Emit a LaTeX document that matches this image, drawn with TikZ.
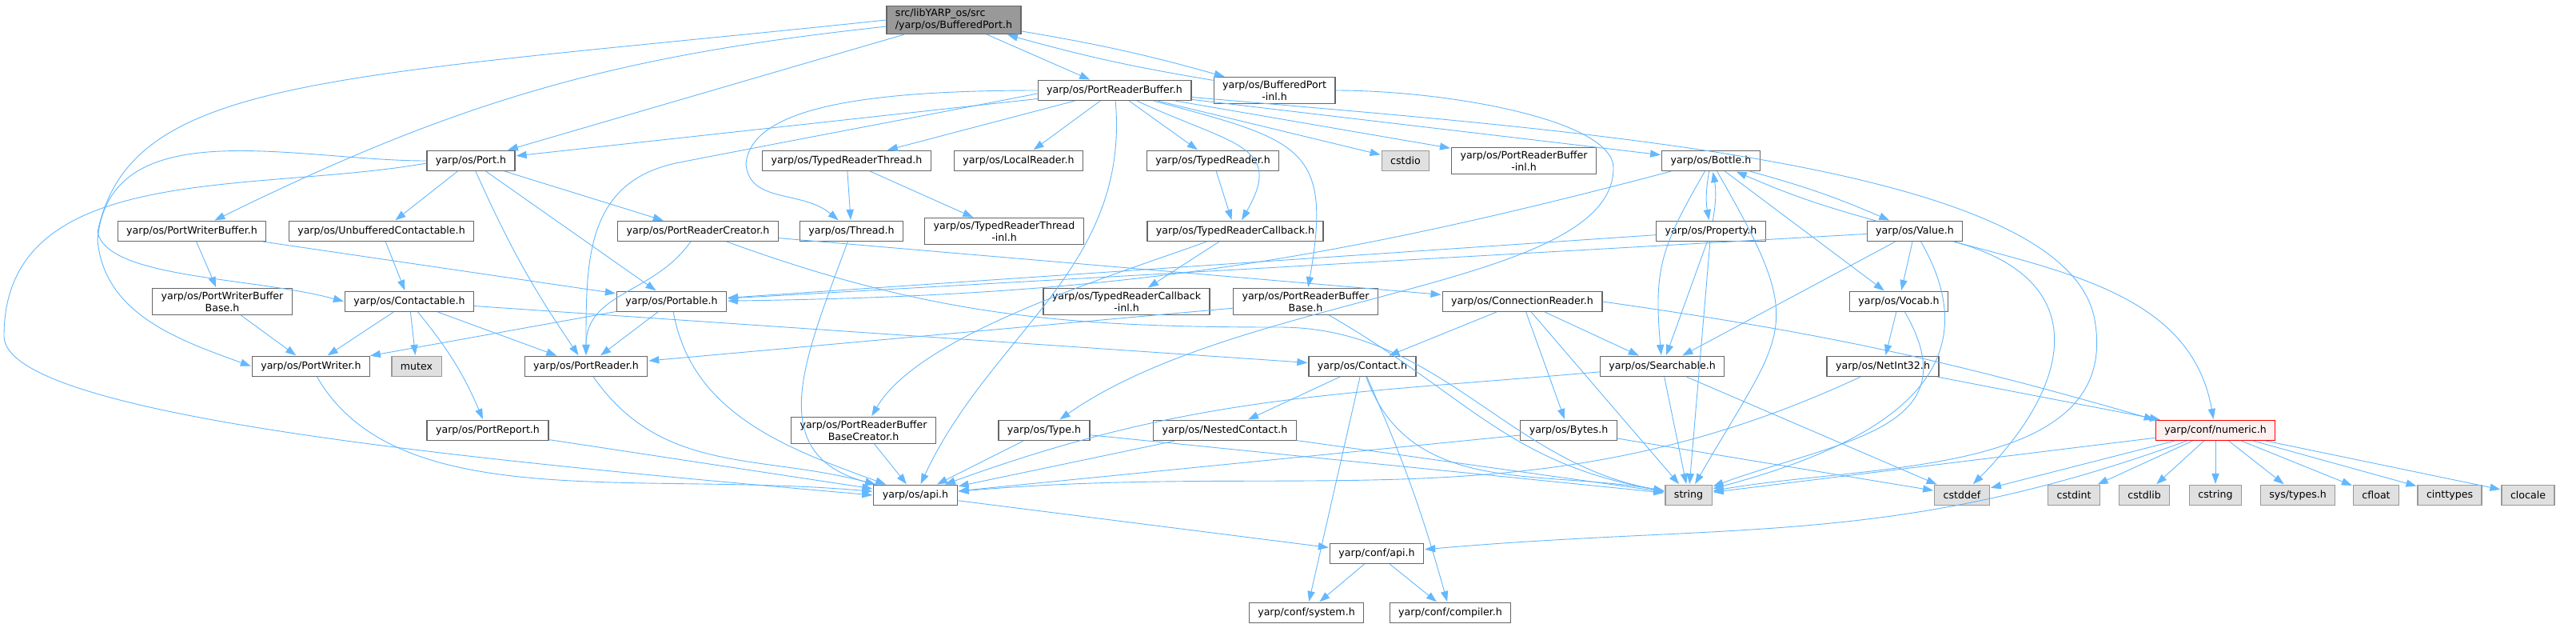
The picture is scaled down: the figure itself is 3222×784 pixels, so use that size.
\documentclass[tikz,border=0pt]{standalone}
\usepackage{fontspec}
\setmainfont{DejaVu Sans}
\usepackage{tikz}
\usetikzlibrary{arrows.meta,positioning}
\definecolor{edgeblue}{HTML}{63B8FF}
\definecolor{boxgray}{HTML}{666666}
\definecolor{rootgray}{HTML}{999999}
\definecolor{sysgray}{HTML}{E0E0E0}
\definecolor{sysedge}{HTML}{999999}
\definecolor{hotfill}{HTML}{FFF0F0}

\begin{document}
\begin{tikzpicture}[x=0.5pt,y=-0.5pt,shorten >=0.5pt,on grid,>={Triangle[length=6.5pt,width=4.6pt]}]
  \tikzstyle{header}=[rectangle,draw=boxgray,fill=white,line width=0.6pt,inner xsep=5.5pt,
                      inner ysep=2pt,minimum height=12.5pt,align=center,font=\fontsize{6.3}{7.5}\selectfont]
  \tikzstyle{root}=[header,fill=rootgray,align=left]
  \tikzstyle{stdlib}=[header,draw=sysedge,fill=sysgray]
  \tikzstyle{marked}=[header,draw=red,fill=hotfill]
  \tikzstyle{dep}=[->,color=edgeblue,line width=0.45pt]
  \useasboundingbox (0,0) rectangle (3222,784);

  \node[root] (bp) at (1193,25) {src/libYARP\_os/src\\/yarp/os/BufferedPort.h};
  \node[header] (prb) [below right=44pt and 100.5pt of bp] {yarp/os/PortReaderBuffer.h};
  \node[header] (bpinl) [right=100pt of prb] {yarp/os/BufferedPort\\-inl.h};

  \node[header] (port) [below left=88pt and 302pt of bp] {yarp/os/Port.h};
  \node[header] (trt) [right=235pt of port] {yarp/os/TypedReaderThread.h};
  \node[header] (localreader) [right=107.5pt of trt] {yarp/os/LocalReader.h};
  \node[header] (typedreader) [right=121.5pt of localreader] {yarp/os/TypedReader.h};
  \node[stdlib] (cstdio) [right=120.5pt of typedreader] {cstdio};
  \node[header] (prbinl) [right=74pt of cstdio] {yarp/os/PortReaderBuffer\\-inl.h};
  \node[header] (bottle) [right=117pt of prbinl] {yarp/os/Bottle.h};

  \node[header] (pwb) [below left=44pt and 174.5pt of port] {yarp/os/PortWriterBuffer.h};
  \node[header] (unbuf) [right=118.5pt of pwb] {yarp/os/UnbufferedContactable.h};
  \node[header] (prc) [right=198pt of unbuf] {yarp/os/PortReaderCreator.h};
  \node[header] (thread) [right=96pt of prc] {yarp/os/Thread.h};
  \node[header] (trtinl) [right=95.5pt of thread] {yarp/os/TypedReaderThread\\-inl.h};
  \node[header] (trc) [right=144.5pt of trtinl] {yarp/os/TypedReaderCallback.h};
  \node[header] (property) [right=297.5pt of trc] {yarp/os/Property.h};
  \node[header] (value) [right=127.5pt of property] {yarp/os/Value.h};

  \node[header] (pwbbase) [below right=44pt and 19pt of pwb] {yarp/os/PortWriterBuffer\\Base.h};
  \node[header] (contactable) [right=117pt of pwbbase] {yarp/os/Contactable.h};
  \node[header] (portable) [right=164pt of contactable] {yarp/os/Portable.h};
  \node[header] (trcinl) [right=284.5pt of portable] {yarp/os/TypedReaderCallback\\-inl.h};
  \node[header] (prbbase) [right=112pt of trcinl] {yarp/os/PortReaderBuffer\\Base.h};
  \node[header] (connreader) [right=135.5pt of prbbase] {yarp/os/ConnectionReader.h};
  \node[header] (vocab) [right=235.5pt of connreader] {yarp/os/Vocab.h};

  \node[header] (portwriter) [below right=40.5pt and 55.5pt of pwbbase] {yarp/os/PortWriter.h};
  \node[stdlib] (mutex) [right=66pt of portwriter] {mutex};
  \node[header] (portreader) [right=106pt of mutex] {yarp/os/PortReader.h};
  \node[header] (contact) [right=485.5pt of portreader] {yarp/os/Contact.h};
  \node[header] (searchable) [right=187.5pt of contact] {yarp/os/Searchable.h};
  \node[header] (netint) [right=138pt of searchable] {yarp/os/NetInt32.h};

  \node[header] (portreport) [below right=40pt and 110.5pt of portwriter] {yarp/os/PortReport.h};
  \node[header] (prbbc) [right=235pt of portreport] {yarp/os/PortReaderBuffer\\BaseCreator.h};
  \node[header] (type) [right=113pt of prbbc] {yarp/os/Type.h};
  \node[header] (nested) [right=113pt of type] {yarp/os/NestedContact.h};
  \node[header] (bytes) [right=215pt of nested] {yarp/os/Bytes.h};
  \node[marked] (numeric) [right=404.5pt of bytes] {yarp/conf/numeric.h};

  \node[header] (api) [below right=40.5pt and 267.5pt of portreport] {yarp/os/api.h};
  \node[stdlib] (string) [right=483.5pt of api] {string};
  \node[stdlib] (cstddef) [right=171pt of string] {cstddef};
  \node[stdlib] (cstdint) [right=70pt of cstddef] {cstdint};
  \node[stdlib] (cstdlib) [right=44pt of cstdint] {cstdlib};
  \node[stdlib] (cstring) [right=44.5pt of cstdlib] {cstring};
  \node[stdlib] (systypes) [right=51.5pt of cstring] {sys/types.h};
  \node[stdlib] (cfloat) [right=49pt of systypes] {cfloat};
  \node[stdlib] (cinttypes) [right=46pt of cfloat] {cinttypes};
  \node[stdlib] (clocale) [right=49pt of cinttypes] {clocale};

  \node[header] (confapi) [below right=36.5pt and 288.5pt of api] {yarp/conf/api.h};
  \node[header] (system) [below left=37pt and 44pt of confapi] {yarp/conf/system.h};
  \node[header] (compiler) [right=90pt of system] {yarp/conf/compiler.h};

  % BufferedPort.h and its -inl.h
  \path[dep] (bp) edge (prb);
  \path[dep] (bp) edge [bend left=3] (bpinl);
  \path[dep] (bpinl) edge [bend left=3] (bp);
  \path[dep] (bp) edge (port);
  \path[dep] (bp) edge [bend right=10] (pwb);
  \draw[dep] (bp.west) to[out=186,in=78,out distance=350pt,in distance=100pt] (122,290)
                       to[out=-78,in=165,out distance=30pt,in distance=60pt] (contactable.west);
  \draw[dep] (bpinl.east) to[out=0,in=90,out distance=70pt,in distance=30pt] (2018,210)
                          to[out=270,in=35,out distance=75pt,in distance=140pt] (type.35);

  % PortReaderBuffer.h
  \path[dep] (prb) edge (port);
  \draw[dep] (prb.west) to[out=180,in=85,out distance=110pt,in distance=35pt] (933,205)
                        to[out=-85,in=140,out distance=25pt,in distance=30pt] (thread.140);
  \draw[dep] ([yshift=-2pt]prb.west) to[out=191,in=11] (850,203)
             to[out=191,in=90,out distance=60pt,in distance=60pt] (portreader.north);
  \path[dep] (prb) edge (trt);
  \path[dep] (prb) edge (localreader);
  \path[dep] (prb) edge (typedreader);
  \path[dep] (prb) edge [out=-25,in=60,out distance=65pt,in distance=55pt] (trc);
  \path[dep] (prb) edge [out=-85,in=65,out distance=105pt,in distance=105pt] (api);
  \path[dep] (prb) edge (cstdio);
  \path[dep] (prb) edge (prbinl);
  \path[dep] (prb) edge (bottle);
  \path[dep] (prb) edge [out=-15,in=80,out distance=95pt,in distance=90pt] (prbbase);
  \draw[dep] (prb.-5) to[out=-5,in=100,out distance=235pt,in distance=100pt] (2620,400)
                      to[out=-80,in=10,out distance=100pt,in distance=100pt] (string.10);

  % Port.h
  \draw[dep] (port.west) to[out=180,in=85,out distance=82pt,in distance=82pt] (122,300)
                         to[out=-85,in=160,out distance=47pt,in distance=47pt] (portwriter.west);
  \draw[dep] ([yshift=-1.5pt]port.west) to[out=190,in=90,out distance=110pt,in distance=110pt] (5,420)
             to[out=270,in=175,out distance=50pt,in distance=250pt] (api.west);
  \path[dep] (port) edge (unbuf);
  \path[dep] (port) edge [bend right=5] (portreader);
  \path[dep] (port) edge (portable);
  \path[dep] (port) edge (prc);

  \path[dep] (pwb) edge (pwbbase);
  \path[dep] (pwb) edge (portable);
  \path[dep] (unbuf) edge (contactable);

  % PortReaderCreator.h
  \path[dep] (prc) edge [out=235,in=90,out distance=40pt,in distance=40pt] (portreader);
  \path[dep] (prc) edge (connreader);
  \draw[dep] (prc.-20) to[out=-20,in=180,out distance=135pt,in distance=135pt] (1600,409)
                       to[out=0,in=170,out distance=100pt,in distance=100pt] (string.170);

  \path[dep] (thread) edge [out=250,in=165,out distance=75pt,in distance=75pt] (api);
  \path[dep] (trt) edge (thread);
  \path[dep] (trt) edge (trtinl);
  \path[dep] (typedreader) edge (trc);
  \path[dep] (trc) edge (trcinl);
  \path[dep] (trc) edge [out=200,in=60,out distance=60pt,in distance=60pt] (prbbc);

  % Bottle.h, Property.h, Value.h
  \path[dep] (bottle) edge [bend right=10] (property);
  \path[dep] (property) edge [bend right=10] (bottle);
  \path[dep] (bottle) edge [bend left=4] (value);
  \path[dep] (value) edge [bend left=4] (bottle);
  \path[dep] (bottle) edge [bend left=7] (portable);
  \path[dep] (bottle) edge [out=240,in=95,out distance=55pt,in distance=55pt] (searchable);
  \path[dep] (bottle) edge [out=-60,in=60,out distance=115pt,in distance=115pt] (string);
  \path[dep] (bottle) edge (vocab);
  \path[dep] (property) edge (portable);
  \path[dep] (property) edge (searchable);
  \path[dep] (property) edge (string);
  \path[dep] (value) edge (portable);
  \path[dep] (value) edge (searchable);
  \path[dep] (value) edge (vocab);
  \path[dep] (value) edge [out=-60,in=15,out distance=100pt,in distance=100pt] (string);
  \path[dep] (value) edge [out=-15,in=45,out distance=90pt,in distance=90pt] (cstddef);
  \path[dep] (value) edge [out=-15,in=100,out distance=77pt,in distance=77pt] (numeric);
  \path[dep] (vocab) edge (netint);
  \path[dep] (vocab) edge [out=-60,in=20,out distance=85pt,in distance=85pt] (string);
  \path[dep] (netint) edge (numeric);
  \path[dep] (netint) edge [out=205,in=5,out distance=220pt,in distance=220pt] (api);
  \path[dep] (searchable) edge (string);
  \path[dep] (searchable) edge (cstddef);
  \path[dep] (searchable) edge [out=185,in=20,out distance=165pt,in distance=165pt] (api);

  % Contact.h and ConnectionReader.h
  \path[dep] (contact) edge (nested);
  \path[dep] (contact) edge [out=-70,in=170,out distance=80pt,in distance=80pt] (string);
  \path[dep] (contact) edge (system);
  \path[dep] (contact) edge [bend left=4] (compiler);
  \path[dep] (connreader) edge (contact);
  \path[dep] (connreader) edge (searchable);
  \path[dep] (connreader) edge (bytes);
  \path[dep] (connreader) edge (string);
  \path[dep] (connreader.east) edge [bend left=4] (numeric.north west);

  % Contactable.h and below
  \path[dep] (contactable) edge (portwriter);
  \path[dep] (contactable) edge (mutex);
  \path[dep] (contactable) edge [bend left=8] (portreport);
  \path[dep] (contactable) edge (portreader);
  \path[dep] (contactable) edge (contact);
  \path[dep] (pwbbase) edge (portwriter);
  \path[dep] (portable) edge (portwriter);
  \path[dep] (portable) edge (portreader);
  \path[dep] (portable) edge [out=-80,in=160,out distance=65pt,in distance=65pt] (api);
  \path[dep] (portwriter) edge [out=-60,in=175,out distance=100pt,in distance=150pt] (api);
  \path[dep] (portreader) edge [out=-55,in=165,out distance=75pt,in distance=75pt] (api);
  \path[dep] (prbbase) edge (portreader);
  \path[dep] (prbbase) edge [out=-30,in=170,out distance=100pt,in distance=100pt] (string);
  \path[dep] (portreport) edge (api);
  \path[dep] (prbbc) edge (api);
  \path[dep] (type) edge (api);
  \path[dep] (type) edge (string);
  \path[dep] (nested) edge (api);
  \path[dep] (nested) edge (string);
  \path[dep] (bytes) edge (api);
  \path[dep] (bytes) edge (cstddef);

  % yarp/conf/numeric.h
  \path[dep] (numeric) edge (string);
  \path[dep] (numeric) edge (cstddef);
  \path[dep] (numeric) edge [out=200,in=5,out distance=195pt,in distance=195pt] (confapi);
  \path[dep] (numeric) edge (cstdint);
  \path[dep] (numeric) edge (cstdlib);
  \path[dep] (numeric) edge (cstring);
  \path[dep] (numeric) edge (systypes);
  \path[dep] (numeric) edge (cfloat);
  \path[dep] (numeric) edge (cinttypes);
  \path[dep] (numeric) edge (clocale);

  \path[dep] (api) edge (confapi);
  \path[dep] (confapi) edge (system);
  \path[dep] (confapi) edge (compiler);
\end{tikzpicture}
\end{document}
